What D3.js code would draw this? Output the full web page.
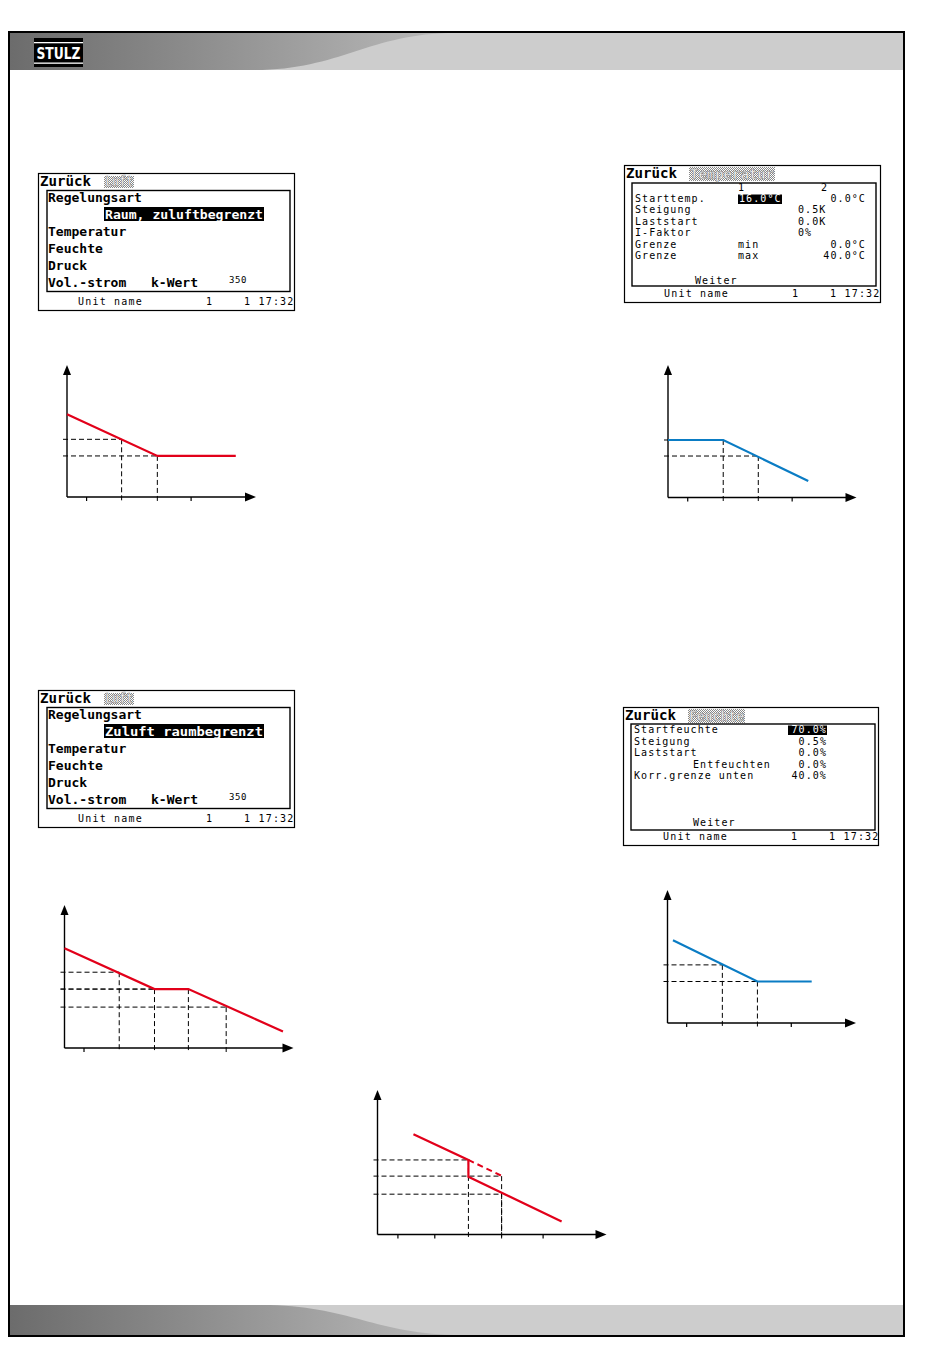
<!DOCTYPE html>
<html>
<head>
<meta charset="utf-8">
<script src="https://cdn.jsdelivr.net/npm/d3@7"></script>
<style>
body{margin:0;background:#fff}
</style>
</head>
<body>
<div id="page"></div>
<script>
// ---- data ----
var screenHeads = ["Luft", "Temperatur", "Luft", "Feuchte"];
var menuItems = ["Regelungsart", "Temperatur", "Feuchte", "Druck", "Vol.-strom"];
var modeNames = ["Raum, zuluftbegrenzt", "Zuluft raumbegrenzt"];
var kWert = ["k-Wert", "350"];
var statusBar = ["Unit name", "1", "1 17:32"];

var tempColHeads = ["1", "2"];
var tempLabels = ["Starttemp.", "Steigung", "Laststart", "I-Faktor", "Grenze", "Grenze"];
var tempCol1 = ["16.0°C", "", "", "", "min", "max"];
var tempMid = ["", "0.5K", "0.0K", "0%", "", ""];
var tempCol2 = ["0.0°C", "", "", "", "0.0°C", "40.0°C"];

var humLabels = ["Startfeuchte", "Steigung", "Laststart", "Entfeuchten", "Korr.grenze unten"];
var humValues = ["70.0%", "0.5%", "0.0%", "0.0%", "40.0%"];
var nextLabel = "Weiter";

// chart values, in % of each axis
var roomLine = [[0, 62.7], [47.8, 31.1], [89.3, 31.1]];
var roomGuides = [[28.9, 43.7], [47.8, 31.1]];
var roomTicks = [10.1, 65.4];

var tempLine = [[0, 43.4], [29.3, 43.4], [74.4, 12.5]];
var tempGuides = [[29.3, 43.4], [47.9, 31.3]];
var tempTicks = [10.2, 65.6];

var supplyLine = [[0, 69.8], [39.3, 41.2], [54.1, 41.2], [95.4, 11.6]];
var supplyGuides = [[23.9, 53.0], [39.3, 41.2], [54.1, 41.2], [70.6, 28.6]];
var supplyTicks = [8.3];

var humLine = [[2.9, 62.3], [47.7, 31.2], [76.5, 31.2]];
var humGuides = [[29.1, 43.7], [47.7, 31.2]];
var humTicks = [9.9, 65.4];

var stepLine = [[15.7, 69.4], [39.7, 51.6], [39.7, 39.9], [80.4, 9.0]];
var stepDashed = [[39.7, 51.6], [54.2, 40.6]];
var stepGuides = [[39.7, 51.6], [54.2, 40.4], [54.2, 27.9]];
var stepTicks = [8.7, 24.8, 72.1];

// ---- styles ----
var RED = "#e2001a", BLUE = "#0a7cc4";
var BIG = "'DejaVu Sans Mono', monospace";

var svg = d3.select("#page").append("svg")
  .attr("width", 950).attr("height", 1360);

var defs = svg.append("defs");

var hg = defs.append("linearGradient").attr("id", "hdr").attr("x1", "0").attr("x2", "1").attr("y1", "0").attr("y2", "0");
hg.append("stop").attr("offset", "0%").attr("stop-color", "#6c6c6c");
hg.append("stop").attr("offset", "48%").attr("stop-color", "#b8b8b8");
hg.append("stop").attr("offset", "100%").attr("stop-color", "#cccccc");

var pat = defs.append("pattern").attr("id", "dither").attr("width", 2).attr("height", 2)
  .attr("patternUnits", "userSpaceOnUse");
pat.append("rect").attr("width", 2).attr("height", 2).attr("fill", "#fff");
pat.append("rect").attr("width", 1).attr("height", 1).attr("fill", "#888");
pat.append("rect").attr("x", 1).attr("y", 1).attr("width", 1).attr("height", 1).attr("fill", "#888");

// ---- page frame ----
svg.append("rect").attr("x", 9).attr("y", 32).attr("width", 895).attr("height", 1304)
  .attr("fill", "#fff").attr("stroke", "#000").attr("stroke-width", 2);

svg.append("rect").attr("x", 10).attr("y", 33).attr("width", 893).attr("height", 37).attr("fill", "url(#hdr)");
svg.append("path").attr("d", "M903,33 L455,33 C370,33 340,70 255,70 L903,70 Z").attr("fill", "#cdcdcd");

svg.append("rect").attr("x", 10).attr("y", 1305).attr("width", 893).attr("height", 30).attr("fill", "url(#hdr)");
svg.append("path").attr("d", "M903,1305 L262,1305 C350,1305 375,1335 462,1335 L903,1335 Z").attr("fill", "#cdcdcd");

// logo
var logo = svg.append("g");
logo.append("rect").attr("x", 34).attr("y", 38).attr("width", 49).attr("height", 29).attr("fill", "#000");
logo.append("rect").attr("x", 34).attr("y", 42).attr("width", 49).attr("height", 1.3).attr("fill", "#fff");
logo.append("rect").attr("x", 34).attr("y", 62.5).attr("width", 49).attr("height", 1.3).attr("fill", "#fff");
logo.append("text").attr("x", 58.5).attr("y", 59).attr("text-anchor", "middle")
  .attr("font-family", "'Liberation Sans Narrow','DejaVu Sans Condensed',sans-serif").attr("font-weight", "bold")
  .attr("font-size", 15).attr("fill", "#fff").attr("textLength", 44).attr("lengthAdjust", "spacingAndGlyphs")
  .text("STULZ");

// ---- screen helpers ----
function txt(g, x, y, s, o) {
  o = o || {};
  var t = g.append("text").attr("x", x).attr("y", y)
    .attr("font-family", BIG)
    .attr("font-size", o.size || 10)
    .attr("font-weight", o.bold ? "bold" : "normal")
    .attr("fill", o.fill || "#000")
    .attr("text-anchor", o.anchor || "start")
    .text(s);
  if (o.ls != null) t.attr("letter-spacing", o.ls);
  if (o.len) t.attr("textLength", o.len).attr("lengthAdjust", "spacingAndGlyphs");
  return t;
}

function frame(g, w, h, inner, head, headBox) {
  g.append("rect").attr("x", 0.5).attr("y", 0.5).attr("width", w).attr("height", h)
    .attr("fill", "#fff").attr("stroke", "#000").attr("stroke-width", 1.2);
  g.append("rect").attr("x", inner[0]).attr("y", inner[1]).attr("width", inner[2]).attr("height", inner[3])
    .attr("fill", "none").attr("stroke", "#000").attr("stroke-width", 1.4);
  txt(g, 2, 13, "Zurück", {size: 14.5, bold: true, len: 51});
  g.append("rect").attr("x", headBox[0]).attr("y", headBox[1]).attr("width", headBox[2]).attr("height", headBox[3])
    .attr("fill", "url(#dither)");
  txt(g, headBox[0] + 1, headBox[1] + headBox[3] - 2, head, {size: 14, bold: true, fill: "#fff", len: headBox[2] - 2})
    .attr("stroke", "#777").attr("stroke-width", 0.5).attr("fill-opacity", 0.75);
}

function status(g, y) {
  txt(g, 40, y, statusBar[0], {ls: 1.2});
  txt(g, 168, y, statusBar[1], {ls: 1.2});
  txt(g, 206, y, statusBar[2], {ls: 1.2});
}

function menuScreen(ox, oy, head, mode) {
  var g = svg.append("g").attr("transform", "translate(" + ox + "," + oy + ")");
  frame(g, 256, 137, [9, 17.5, 243, 101], head, [66, 3, 30, 12]);
  var base = [29, 63, 80, 97, 114];
  menuItems.forEach(function (m, i) {
    txt(g, 10, base[i], m, {size: 13, bold: true});
  });
  g.append("rect").attr("x", 66).attr("y", 34).attr("width", 160).attr("height", 14).attr("fill", "#000");
  txt(g, 67, 45.5, mode, {size: 13, bold: true, fill: "#fff", len: 158});
  txt(g, 113, 114, kWert[0], {size: 13, bold: true});
  txt(g, 191, 110, kWert[1], {size: 9, ls: 0.6});
  status(g, 132);
}

function tempScreen(ox, oy) {
  var g = svg.append("g").attr("transform", "translate(" + ox + "," + oy + ")");
  frame(g, 256, 137, [8, 18, 244, 103], screenHeads[1], [65, 2, 86, 14]);
  txt(g, 114, 26, tempColHeads[0]);
  txt(g, 197, 26, tempColHeads[1]);
  var base = [37, 48, 60, 71, 83, 94];
  g.append("rect").attr("x", 114).attr("y", 29.5).attr("width", 44).attr("height", 9.5).attr("fill", "#000");
  tempLabels.forEach(function (l, i) {
    txt(g, 11, base[i], l, {ls: 1.05});
    if (tempCol1[i]) txt(g, i === 0 ? 115 : 114, base[i], tempCol1[i], {ls: 1.1, fill: i === 0 ? "#fff" : "#000"});
    if (tempMid[i]) txt(g, 174, base[i], tempMid[i], {ls: 1.1});
    if (tempCol2[i]) txt(g, 242, base[i], tempCol2[i], {ls: 1.1, anchor: "end"});
  });
  txt(g, 71, 119, nextLabel, {ls: 1.1});
  status(g, 132);
}

function humScreen(ox, oy) {
  var g = svg.append("g").attr("transform", "translate(" + ox + "," + oy + ")");
  frame(g, 255, 138, [8, 17, 244, 106], screenHeads[3], [65, 2, 57, 14]);
  var base = [26, 38, 49, 61, 72];
  g.append("rect").attr("x", 165).attr("y", 18.5).attr("width", 39).attr("height", 9.5).attr("fill", "#000");
  humLabels.forEach(function (l, i) {
    txt(g, i === 3 ? 70 : 11, base[i], l, {ls: 1.05});
    txt(g, 204, base[i], humValues[i], {ls: 1.1, anchor: "end", fill: i === 0 ? "#fff" : "#000"});
  });
  txt(g, 70, 119, nextLabel, {ls: 1.1});
  status(g, 133);
}

menuScreen(38, 173, screenHeads[0], modeNames[0]);
tempScreen(624, 165);
menuScreen(38, 690, screenHeads[2], modeNames[1]);
humScreen(623, 707);

// ---- charts ----
function drawChart(L, line, guides, ticks, color, dashedLine) {
  var x = d3.scaleLinear().domain([0, 100]).range([L.x0, L.x0 + L.w]);
  var y = d3.scaleLinear().domain([0, 100]).range([L.y0, L.y0 - L.h]);
  var g = svg.append("g");

  // dashed guides
  guides.forEach(function (p) {
    g.append("line").attr("x1", x(0) - 4).attr("x2", x(p[0])).attr("y1", y(p[1])).attr("y2", y(p[1]))
      .attr("stroke", "#000").attr("stroke-width", 1).attr("stroke-dasharray", "5,3");
    g.append("line").attr("x1", x(p[0])).attr("x2", x(p[0])).attr("y1", y(p[1])).attr("y2", y(0) + 4)
      .attr("stroke", "#000").attr("stroke-width", 1).attr("stroke-dasharray", "5,3");
  });

  // ticks via axis
  g.append("g").attr("transform", "translate(0," + y(0) + ")")
    .call(d3.axisBottom(x).tickValues(ticks).tickSize(4).tickFormat(""))
    .call(function (a) { a.select(".domain").remove(); })
    .selectAll("line").attr("stroke-width", 1.2);

  // axes
  g.append("line").attr("x1", x(0)).attr("x2", x(100) - 8).attr("y1", y(0)).attr("y2", y(0))
    .attr("stroke", "#000").attr("stroke-width", 1.4);
  g.append("line").attr("x1", x(0)).attr("x2", x(0)).attr("y1", y(0)).attr("y2", y(100) + 8)
    .attr("stroke", "#000").attr("stroke-width", 1.4);
  g.append("path").attr("d", "M" + x(100) + "," + y(0) + " l-11,-4.5 l0,9 Z").attr("fill", "#000");
  g.append("path").attr("d", "M" + x(0) + "," + y(100) + " l-4,10 l8,0 Z").attr("fill", "#000");

  var path = d3.line().x(function (d) { return x(d[0]); }).y(function (d) { return y(d[1]); });
  if (dashedLine) {
    g.append("path").attr("d", path(dashedLine)).attr("fill", "none").attr("stroke", color)
      .attr("stroke-width", 2).attr("stroke-dasharray", "6,4");
  }
  g.append("path").attr("d", path(line)).attr("fill", "none").attr("stroke", color)
    .attr("stroke-width", 2.2).attr("stroke-linejoin", "miter");
}

drawChart({x0: 67, y0: 497, w: 189, h: 132}, roomLine, roomGuides, roomTicks, RED);
drawChart({x0: 668, y0: 497.5, w: 188.5, h: 132.5}, tempLine, tempGuides, tempTicks, BLUE);
drawChart({x0: 64.5, y0: 1048, w: 229, h: 143}, supplyLine, supplyGuides, supplyTicks, RED);
drawChart({x0: 667.5, y0: 1023, w: 188.5, h: 133}, humLine, humGuides, humTicks, BLUE);
drawChart({x0: 377.5, y0: 1234.5, w: 229, h: 144.5}, stepLine, stepGuides, stepTicks, RED, stepDashed);
</script>
</body>
</html>
